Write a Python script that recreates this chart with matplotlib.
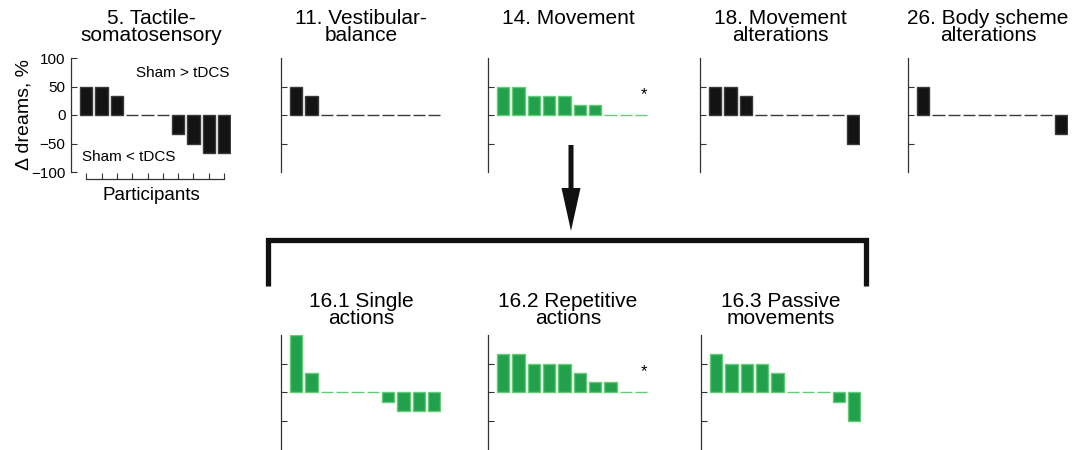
import matplotlib
matplotlib.use('Agg')
import matplotlib.pyplot as plt

plt.rcParams['font.family'] = ['Liberation Sans', 'DejaVu Sans']

# ---------------- data ----------------
participants = list(range(1, 11))

titles_top = ['5. Tactile-\nsomatosensory', '11. Vestibular-\nbalance',
              '14. Movement', '18. Movement\nalterations',
              '26. Body scheme\nalterations']
tactile = [50, 50, 33.3, 0, 0, 0, -33.3, -50, -66.7, -66.7]
vestibular = [50, 33.3, 0, 0, 0, 0, 0, 0, 0, 0]
movement = [50, 50, 33.3, 33.3, 33.3, 16.7, 16.7, 0, 0, 0]
movement_alt = [50, 50, 33.3, 0, 0, 0, 0, 0, 0, -50]
body_scheme = [50, 0, 0, 0, 0, 0, 0, 0, 0, -33.3]
vals_top = [tactile, vestibular, movement, movement_alt, body_scheme]
green_top = [False, False, True, False, False]
sig_top = [False, False, True, False, False]

titles_bottom = ['16.1 Single\nactions', '16.2 Repetitive\nactions',
                 '16.3 Passive\nmovements']
single = [100, 33.3, 0, 0, 0, 0, -16.7, -33.3, -33.3, -33.3]
repetitive = [66.7, 66.7, 50, 50, 50, 33.3, 16.7, 16.7, 0, 0]
passive = [66.7, 50, 50, 50, 33.3, 0, 0, 0, -16.7, -50]
vals_bottom = [single, repetitive, passive]
sig_bottom = [False, True, False]

yticks_full = [-100, -50, 0, 50, 100]

# ---------------- layout ----------------
W, H = 1083, 450
fig = plt.figure(figsize=(W / 100, H / 100), dpi=100)

BLACK = '#131313'
BLACK_EDGE = '#3a3a3a'
GREEN = '#23a04c'
GREEN_EDGE = '#62cc78'
SPINE = '#333333'

axw = 160 / W
axh = 114 / H


def make_panel(left_px, top_px, vals, green, sig, title, title_gap, first=False):
    ax = fig.add_axes([left_px / W, 1 - (top_px + 114) / H, axw, axh])
    ax.set_xlim(0, 10.45)
    ax.set_ylim(-100, 100)
    fc = GREEN if green else BLACK
    ec = GREEN_EDGE if green else BLACK_EDGE
    ax.bar(participants, vals, width=0.8, color=fc, edgecolor=ec, linewidth=1.0)
    for s in ['top', 'right']:
        ax.spines[s].set_visible(False)
    ax.spines['left'].set_color(SPINE)
    ax.spines['left'].set_linewidth(0.9)
    ax.tick_params(axis='y', direction='in', length=4, width=0.8, color=SPINE,
                   labelsize=11, pad=4)
    if first:
        ax.set_yticks(yticks_full)
        ax.set_ylabel('Δ dreams, %', fontsize=14, labelpad=-1)
        ax.spines['bottom'].set_position(('outward', 5))
        ax.spines['bottom'].set_bounds(1, 10)
        ax.spines['bottom'].set_color(SPINE)
        ax.spines['bottom'].set_linewidth(0.9)
        ax.set_xticks(participants)
        ax.set_xticklabels([])
        ax.tick_params(axis='x', direction='in', length=4, width=0.8, color=SPINE)
        ax.set_xlabel('Participants', fontsize=13.5, labelpad=2)
        ax.text(0.99, 0.865, 'Sham > tDCS', transform=ax.transAxes,
                ha='right', va='center', fontsize=11)
        ax.text(0.07, 0.13, 'Sham < tDCS', transform=ax.transAxes,
                ha='left', va='center', fontsize=11)
    else:
        ax.set_yticks([-50, 0, 50])
        ax.set_yticklabels([])
        ax.spines['bottom'].set_visible(False)
        ax.set_xticks([])
    if sig:
        ax.text(10.2, 35, '*', ha='center', va='center', fontsize=12)
    cx = (left_px + 80) / W
    fig.text(cx, 1 - (top_px - title_gap) / H, title, ha='center', va='top',
             fontsize=15, linespacing=0.85)
    return ax


top_lefts = [71, 281, 488, 700, 908]
for i in range(5):
    make_panel(top_lefts[i], 58, vals_top[i], green_top[i], sig_top[i],
               titles_top[i], 49, first=(i == 0))

bottom_lefts = [281, 488, 701]
for i in range(3):
    make_panel(bottom_lefts[i], 335, vals_bottom[i], True, sig_bottom[i],
               titles_bottom[i], 43)

# overlay for arrow and bracket
ov = fig.add_axes([0, 0, 1, 1])
ov.set_xlim(0, W)
ov.set_ylim(H, 0)
ov.axis('off')
ov.patch.set_alpha(0)
ov.plot([268, 268, 866, 866], [286, 240, 240, 286], color='#111111', lw=3.8,
        solid_joinstyle='miter', solid_capstyle='butt')
ov.arrow(571, 145, 0, 86, width=5, head_width=19, head_length=43,
         length_includes_head=True, color='#111111', lw=0)

fig.savefig('out.png', dpi=100)
